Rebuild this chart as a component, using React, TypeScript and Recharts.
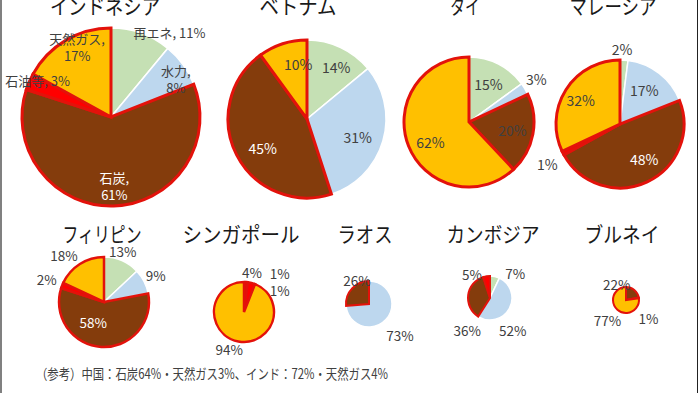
import { PieChart, Pie, Cell } from 'recharts'

// 電源構成（%）: 再エネ, 水力, 石炭, 石油等, 天然ガス の順
const TYPES = ['ren', 'hydro', 'coal', 'oil', 'gas']
const TYPE_NAMES = ['再エネ', '水力', '石炭', '石油等', '天然ガス']
const FILLS = ['#c5e0b4', '#bdd7ee', '#843c0c', '#ff0000', '#ffc000']
const FOSSIL = ['coal', 'oil', 'gas']

const COUNTRIES = ['インドネシア', 'ベトナム', 'タイ', 'マレーシア', 'フィリピン', 'シンガポール', 'ラオス', 'カンボジア', 'ブルネイ']

const indonesia = [11, 8, 61, 3, 17]
const vietnam = [14, 31, 45, 0, 10]
const thailand = [15, 3, 20, 0, 62]
const malaysia = [2, 17, 48, 1, 32]
const philippines = [13, 9, 58, 2, 18]
const singapore = [1, 0, 1, 4, 94]
const laos = [0, 73, 26, 0, 0]
const cambodia = [7, 52, 36, 5, 0]
const brunei = [0, 0, 22, 1, 77]

const SHARES = [indonesia, vietnam, thailand, malaysia, philippines, singapore, laos, cambodia, brunei]

const NOTE = '（参考）中国：石炭64%・天然ガス3%、インド：72%・天然ガス4%'

// 円の位置と大きさ、タイトル位置
const PIES = [
  { cx: 111, cy: 117, r: 89, tx: 105, ty: 14, tw: 110, sw: 3, fs: 13 },
  { cx: 307, cy: 119, r: 79, tx: 298, ty: 14, tw: 77, sw: 3, fs: 14 },
  { cx: 469, cy: 122, r: 65, tx: 465, ty: 14, tw: 30, sw: 3, fs: 14 },
  { cx: 620, cy: 124, r: 64, tx: 613, ty: 14, tw: 87, sw: 3, fs: 14 },
  { cx: 104, cy: 302, r: 45, tx: 102, ty: 242, tw: 79, sw: 2.5, fs: 13.5 },
  { cx: 244, cy: 312, r: 30, tx: 241, ty: 242, tw: 117, sw: 2.5, fs: 13.5 },
  { cx: 369, cy: 304, r: 23, tx: 365, ty: 242, tw: 55, sw: 2, fs: 13.5 },
  { cx: 490, cy: 298, r: 22, tx: 493, ty: 242, tw: 93, sw: 2, fs: 13.5 },
  { cx: 626, cy: 300, r: 13, tx: 622, ty: 242, tw: 75, sw: 2, fs: 13.5 },
]

// ラベル位置: [半径に対する倍率, 角度の補正(度, 時計回り)]
const LABEL_LAYOUT: Record<string, [number, number]>[] = [
  { ren: [1.15, 15], hydro: [0.85, 5], coal: [0.77, -1], oil: [0.92, 3], gas: [0.88, 5] },
  { ren: [0.76, 4], hydro: [0.68, 3], coal: [0.67, -6], gas: [0.71, 9] },
  { ren: [0.66, 0], hydro: [1.23, -2], coal: [0.68, 0], gas: [0.67, -6] },
  { ren: [1.18, -2], hydro: [0.65, -2], coal: [0.67, -9], oil: [1.3, -2], gas: [0.72, -1] },
  { ren: [1.2, -3], hydro: [1.3, -1], coal: [0.5, 25], oil: [1.37, 0], gas: [1.37, -8] },
  { ren: [1.75, 41], coal: [1.4, 53], oil: [1.35, -3], gas: [1.32, 11] },
  { hydro: [1.9, 2], coal: [1.17, 21] },
  { ren: [1.6, 33], hydro: [1.8, 26], coal: [1.8, -62], oil: [1.36, -28] },
  { coal: [1.4, -70], oil: [2.2, 47], gas: [2.1, 1] },
]

const TWO_LINE = ['hydro', 'coal', 'gas']
const FONT = '"Noto Sans CJK JP", "Noto Sans", sans-serif'

function makeLabel(ci: number) {
  return (p: any) => {
    const type = p.payload?.type ?? p.type
    const lay = LABEL_LAYOUT[ci][type]
    if (!lay) return null
    const [k, delta] = lay
    const theta = ((90 - p.midAngle + delta) * Math.PI) / 180
    const x = p.cx + p.outerRadius * k * Math.sin(theta)
    const y = p.cy - p.outerRadius * k * Math.cos(theta)
    const v = p.payload?.value ?? p.value
    const inside = k < 1
    const color = type === 'coal' && inside && ci !== 2 ? '#ffffff' : '#404040'
    const fs = PIES[ci].fs
    if (ci === 0) {
      const name = TYPE_NAMES[TYPES.indexOf(type)]
      if (TWO_LINE.includes(type)) {
        return (
          <text x={x} y={y} textAnchor="middle" fill={color} fontSize={fs} fontFamily={FONT}>
            <tspan x={x} dy={-2}>{name},</tspan>
            <tspan x={x} dy={17}>{v}%</tspan>
          </text>
        )
      }
      return (
        <text x={x} y={y} textAnchor="middle" dominantBaseline="central" fill={color} fontSize={fs} fontFamily={FONT}>
          {name}, {v}%
        </text>
      )
    }
    return (
      <text x={x} y={y} textAnchor="middle" dominantBaseline="central" fill={color} fontSize={fs} fontFamily={FONT}>
        {v}%
      </text>
    )
  }
}

export default function App() {
  return (
    <div style={{ position: 'fixed', left: 0, top: 0, width: 700, height: 393, background: '#fff', overflow: 'hidden' }}>
      <PieChart width={700} height={393} margin={{ top: 0, right: 0, bottom: 0, left: 0 }}>
        {SHARES.map((vals, ci) => {
          const data = vals
            .map((value, i) => ({ type: TYPES[i], name: TYPE_NAMES[i], value, fill: FILLS[i] }))
            .filter((d) => d.value > 0)
          const pl = PIES[ci]
          return (
            <Pie
              key={COUNTRIES[ci]}
              data={data}
              dataKey="value"
              cx={pl.cx}
              cy={pl.cy}
              outerRadius={pl.r}
              startAngle={90}
              endAngle={-270}
              labelLine={false}
              label={makeLabel(ci)}
              isAnimationActive={false}
            >
              {data.map((d) => (
                <Cell
                  key={d.type}
                  fill={d.fill}
                  stroke={FOSSIL.includes(d.type) ? '#e3120b' : '#ffffff'}
                  strokeWidth={FOSSIL.includes(d.type) ? pl.sw : 1.5}
                />
              ))}
            </Pie>
          )
        })}
      </PieChart>
      <svg width={700} height={393} style={{ position: 'absolute', left: 0, top: 0, pointerEvents: 'none' }}>
        {COUNTRIES.map((c, ci) => (
          <text
            key={c}
            x={PIES[ci].tx}
            y={PIES[ci].ty}
            textAnchor="middle"
            fontSize={21}
            fontFamily={FONT}
            fill="#1a1a1a"
            textLength={PIES[ci].tw}
            lengthAdjust="spacingAndGlyphs"
          >
            {c}
          </text>
        ))}
        <text x={36} y={379} fontSize={14} fontFamily={FONT} fill="#404040" textLength={352} lengthAdjust="spacingAndGlyphs">
          {NOTE}
        </text>
        <line x1={1} y1={0} x2={1} y2={393} stroke="#808080" strokeWidth={2} />
        <line x1={697.5} y1={0} x2={697.5} y2={393} stroke="#222" strokeWidth={1} />
      </svg>
    </div>
  )
}
